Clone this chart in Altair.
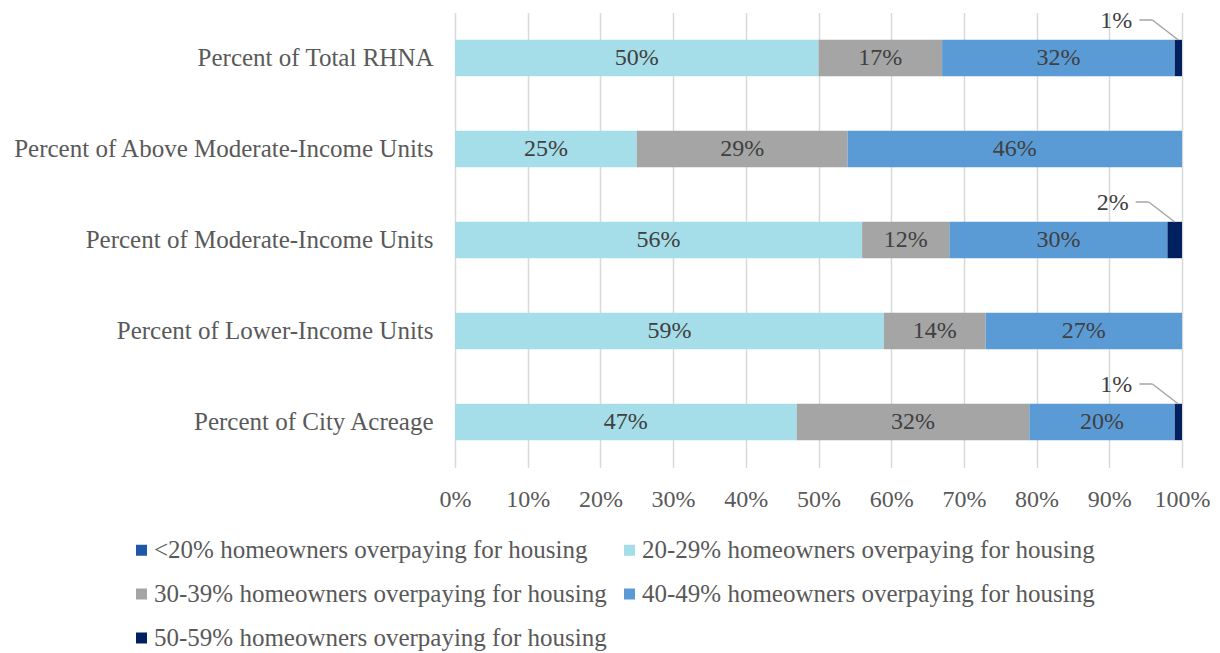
import altair as alt
import pandas as pd

categories = [
    "Percent of Total RHNA",
    "Percent of Above Moderate-Income Units",
    "Percent of Moderate-Income Units",
    "Percent of Lower-Income Units",
    "Percent of City Acreage",
]
series = [
    "<20% homeowners overpaying for housing",
    "20-29% homeowners overpaying for housing",
    "30-39% homeowners overpaying for housing",
    "40-49% homeowners overpaying for housing",
    "50-59% homeowners overpaying for housing",
]
colors = ["#1F56A6", "#A5DDE8", "#A5A5A5", "#5B9BD5", "#002060"]

v_lt20 = [0, 0, 0, 0, 0]
v_20_29 = [50, 25, 56, 59, 47]
v_30_39 = [17, 29, 12, 14, 32]
v_40_49 = [32, 46, 30, 27, 20]
v_50_59 = [1, 0, 2, 0, 1]
x_ticks = [0, 10, 20, 30, 40, 50, 60, 70, 80, 90, 100]

all_vals = [v_lt20, v_20_29, v_30_39, v_40_49, v_50_59]
rows = []
for ci, c in enumerate(categories):
    for si, s in enumerate(series):
        rows.append({"category": c, "series": s, "order": si, "value": all_vals[si][ci]})
df = pd.DataFrame(rows)

FONT = "Liberation Serif"

base = alt.Chart(df).transform_stack(
    stack="value", groupby=["category"], sort=[alt.SortField("order")], as_=["x0", "x1"]
).transform_calculate(mid="(datum.x0 + datum.x1) / 2", lbl="datum.value + '%'")

y_enc = alt.Y(
    "category:N",
    sort=categories,
    title=None,
    scale=alt.Scale(paddingInner=0.6, paddingOuter=0.3),
    axis=alt.Axis(domain=False, ticks=False, labelPadding=22, labelFontSize=25,
                  labelColor="#595959", labelFont=FONT, labelLimit=600),
)

bars = base.mark_bar().encode(
    x=alt.X("x0:Q", scale=alt.Scale(domain=[0, 100]), title=None,
            axis=alt.Axis(values=x_ticks, labelExpr="datum.value + '%'", domain=False, ticks=False,
                          grid=True, gridColor="#D9D9D9", gridWidth=1.5, labelPadding=20,
                          labelOverlap=False, labelFlush=False,
                          labelFontSize=24, labelColor="#595959", labelFont=FONT)),
    x2="x1:Q",
    y=y_enc,
    color=alt.Color("series:N", scale=alt.Scale(domain=series, range=colors), title=None,
                    legend=alt.Legend(orient="none", legendX=-326, legendY=525, columns=2,
                                      direction="horizontal",
                                      symbolType="square", symbolSize=121, symbolStrokeWidth=0,
                                      labelFontSize=25, labelFont=FONT, labelColor="#595959",
                                      labelLimit=600, columnPadding=10, rowPadding=18,
                                      labelOffset=0)),
)

inner = base.transform_filter("datum.value >= 5").mark_text(
    fontSize=24, font=FONT, color="#404040", baseline="middle", align="center"
).encode(x="mid:Q", y=alt.Y("category:N", sort=categories), text="lbl:N")

small = base.transform_filter("datum.value > 0 && datum.value < 5")
outer_text = small.mark_text(
    fontSize=24, font=FONT, color="#404040", baseline="middle", align="center", dx=-62, dy=-37
).encode(x="mid:Q", y=alt.Y("category:N", sort=categories), text="lbl:N")

lead_h = small.mark_rule(color="#A5A5A5", strokeWidth=1.5, xOffset=-39, x2Offset=-26, yOffset=-38).encode(
    x="mid:Q", x2="mid:Q", y=alt.Y("category:N", sort=categories)
)
lead_d = small.mark_rule(color="#A5A5A5", strokeWidth=1.5, xOffset=-26, x2Offset=0,
                         yOffset=-38, y2Offset=-18).encode(
    x="mid:Q", x2="mid:Q", y=alt.Y("category:N", sort=categories), y2="category:N"
)

chart = alt.layer(bars, inner, outer_text, lead_h, lead_d).properties(
    width=727, height=455,
    autosize=alt.AutoSizeParams(type="none"),
    padding={"left": 447, "top": 4.5, "right": 30, "bottom": 185},
).configure_view(stroke=None)

chart.save("out.html", embed_options={"renderer": "svg", "actions": False})
